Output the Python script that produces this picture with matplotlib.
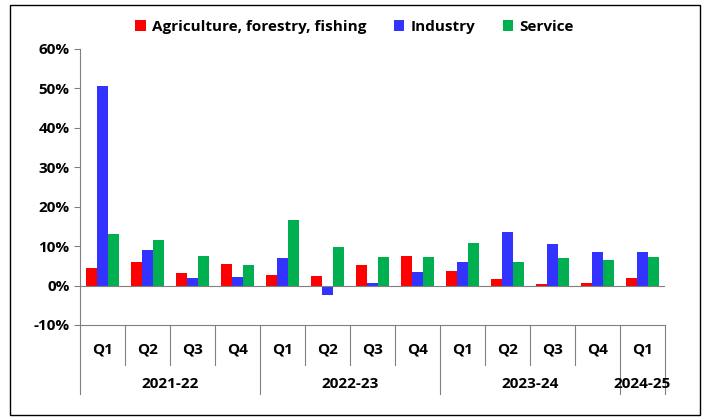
import matplotlib.pyplot as plt
import matplotlib.transforms as mtransforms
from matplotlib.patches import Rectangle
import numpy as np

quarters = ["Q1", "Q2", "Q3", "Q4", "Q1", "Q2", "Q3", "Q4", "Q1", "Q2", "Q3", "Q4", "Q1"]
years = ["2021-22", "2022-23", "2023-24", "2024-25"]
year_span = [4, 4, 4, 1]
agri = [4.5, 6.0, 3.2, 5.5, 2.7, 2.4, 5.2, 7.6, 3.8, 1.7, 0.4, 0.7, 2.0]
industry = [50.7, 8.9, 2.0, 2.3, 6.9, -2.4, 0.6, 3.4, 6.1, 13.6, 10.6, 8.5, 8.4]
service = [13.0, 11.6, 7.6, 5.3, 16.7, 9.8, 7.2, 7.3, 10.7, 6.1, 7.1, 6.6, 7.3]

plt.rcParams["font.family"] = ["Open Sans", "DejaVu Sans"]
plt.rcParams["font.weight"] = "bold"

fig = plt.figure(figsize=(7.09, 4.2), dpi=100)
ax = fig.add_axes([80 / 709, 1 - 325 / 420, 585 / 709, 276 / 420])

x = np.arange(len(quarters))
w = 0.24
ax.bar(x - w, agri, w, color="#FF0000", label="Agriculture, forestry, fishing")
ax.bar(x, industry, w, color="#3333FF", label="Industry")
ax.bar(x + w, service, w, color="#00B050", label="Service")

ax.set_xlim(-0.5, len(quarters) - 0.5)
ax.set_ylim(-10, 60)
ax.set_yticks(range(-10, 61, 10))
ax.set_yticklabels([f"{v}%" for v in range(-10, 61, 10)], fontsize=11, fontweight="bold")
ax.axhline(0, color="#808080", lw=0.8)
ax.set_xticks([])
for s in ["top", "right", "bottom"]:
    ax.spines[s].set_visible(False)
ax.spines["left"].set_color("#808080")
ax.tick_params(axis="y", length=4, color="#808080")

trans = mtransforms.blended_transform_factory(ax.transData, ax.transAxes)
ax.plot([-0.5, len(quarters) - 0.5], [0, 0], color="#808080", lw=0.8, transform=trans, clip_on=False)
for i, q in enumerate(quarters):
    ax.text(i, -0.09, q, transform=trans, ha="center", va="center", fontsize=11, fontweight="bold")
bounds = np.cumsum([0] + year_span)
for b in range(len(quarters) + 1):
    ylow = -0.25 if b in bounds else -0.145
    ax.plot([b - 0.5, b - 0.5], [0, ylow], color="#808080", lw=0.8, transform=trans, clip_on=False)
for yr, a, b in zip(years, bounds[:-1], bounds[1:]):
    ax.text((a + b - 1) / 2, -0.215, yr, transform=trans, ha="center", va="center",
            fontsize=11, fontweight="bold")

fig.legend(loc="upper center", bbox_to_anchor=(0.5, 0.985), ncol=3, frameon=False,
           prop={"size": 11, "weight": "bold"}, handlelength=0.7, handleheight=0.7,
           columnspacing=1.8, handletextpad=0.4)
fig.patches.append(Rectangle((10 / 709, 5 / 420), 690 / 709, 410 / 420, transform=fig.transFigure,
                             fill=False, edgecolor="black", lw=1))

fig.savefig("out.png", dpi=100)
